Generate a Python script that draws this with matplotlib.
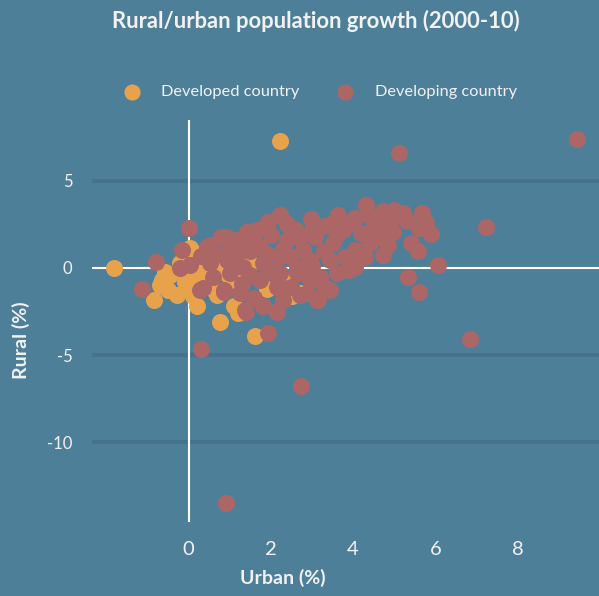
import matplotlib
matplotlib.use("Agg")
import matplotlib.pyplot as plt

plt.rcParams['font.family'] = ['Lato', 'DejaVu Sans']
plt.rcParams['axes.unicode_minus'] = False

BG = "#4e7f99"
ORANGE = "#e9a24c"
RED = "#ad6666"
GRID = "#46728b"
TXT = "#f2f2f2"

title = "Rural/urban population growth (2000-10)"
series_names = ["Developed country", "Developing country"]
x_ticks = [0, 2, 4, 6, 8]
y_ticks = [-10, -5, 0, 5]

developed_urban = [-1.81, 2.22, -0.84, 0.77, 1.62, 0.2, 2.52, 1.21, 0.69, -0.29,
                   -0.65, -0.45, -0.49, -0.04, 0.04, 0.28, 0.52, 0.44, -0.57, 0.16,
                   0.44, 0.44, -0.2, 0.0, 0.9, 1.0, 0.7, -0.7, 0.3, 1.3,
                   2.7, 1.9, 2.4, 1.5, 0.6, -0.1, 0.1, 1.1]
developed_rural = [0.0, 7.28, -1.83, -3.1, -3.9, -2.2, -1.6, -2.6, -1.55, -1.55,
                   -0.69, -0.4, -1.26, -1.17, 1.15, -0.4, -0.78, 0.74, -0.21, 0.86,
                   -0.69, -0.5, 0.3, -0.5, -0.3, -1.0, 0.2, -1.0, 0.2, -0.6,
                   -1.45, -1.2, -0.8, 0.3, -1.2, -0.8, -1.6, -2.2]

developing_urban = [9.44, 5.12, 7.23, 6.07, 6.84, 5.61, 5.34, 2.73, 0.91, 0.3,
                    1.93, 0.01, -1.14, -0.79, 0.28, 0.86, 1.4, 1.81, 2.15, 2.3,
                    -0.17, -0.22, 0.04, 0.52, 0.78, 0.44, 1.17, 1.41,
                    4.31, 4.73, 5.22, 5.67, 5.77, 5.61, 5.89, 5.42, 5.59, 2.97,
                    3.63, 4.05, 4.9, 4.98, 4.86, 4.73, 4.42, 4.05, 3.44, 3.2,
                    3.44, 3.15, 2.87, 2.83, 2.79, 3.76, 4.05, 3.07, 3.52, 4.52,
                    4.65, 2.22, 1.94, 1.66, 2.18, 2.63, 2.95, 1.82, 2.14, 1.9,
                    1.09, 1.74, 2.39, 2.71, 0.52, 0.93, 1.33, 1.82, 2.22, 2.63,
                    2.95, 0.85, 1.25, 1.74, 2.14, 2.71, 1.37, 3.12, 0.36, 1.57,
                    1.17, 3.3, 3.9, 4.2, 3.6, 3.3, 3.8, 4.3, 2.4, 2.6,
                    2.0, 2.3, 1.9, 1.5, 1.3, 0.7, 1.0, 0.3, 2.5, 3.0,
                    2.0, 1.5, 1.0, 0.6, 1.3, 2.5, 3.6, 4.4, 5.0, 3.5,
                    3.0, 4.7, 5.3, 4.2, 3.9, 2.2, 1.6, 3.3, 0.9]
developing_rural = [7.39, 6.59, 2.35, 0.17, -4.07, -1.36, -0.5, -6.76, -13.47, -4.64,
                    -3.72, 2.27, -1.2, 0.36, -1.26, -1.38, -2.5, -2.18, -2.46, -1.83,
                    1.03, 0.0, 0.17, 1.32, 1.79, 1.22, 1.6, 2.08,
                    3.61, 3.28, 3.17, 3.17, 2.56, 2.27, 1.95, 1.41, 0.97, 2.79,
                    3.04, 2.85, 2.66, 2.08, 1.32, 0.74, 1.41, 0.08, 0.46, -0.5,
                    -1.26, -1.83, -1.45, -0.3, 1.03, 2.18, 1.03, 1.79, 1.41, 2.37,
                    1.79, 3.04, 2.66, 2.18, -0.88, -0.3, -0.69, -2.2, -2.5, 2.46,
                    1.41, 1.22, 1.6, 1.79, 0.27, 0.46, 0.08, 0.27, -0.3, 0.08,
                    0.46, -1.26, -1.45, -0.69, -1.07, -1.55, -2.41, -1.83, -1.17, 1.79,
                    0.74, 2.4, 2.5, 2.0, 1.9, 1.0, 0.6, 0.6, 2.5, 2.2,
                    1.9, 1.1, 0.8, 1.0, 1.3, 0.8, 1.1, 0.7, 0.6, 0.1,
                    -0.2, -0.4, -0.3, -0.5, -0.9, -1.1, -0.3, 3.0, 3.3, 2.6,
                    2.2, 2.4, 2.7, 1.0, -0.1, 0.6, -1.7, -1.1, 1.8]

W, H = 599, 596
fig = plt.figure(figsize=(W / 100, H / 100), dpi=100, facecolor=BG)
ax = fig.add_axes([92 / W, 1 - 522 / H, 1 - 92 / W, (522 - 120) / H])
ax.set_facecolor(BG)
for s in ax.spines.values():
    s.set_visible(False)

ax.set_xlim(-2.35, 9.98)
ax.set_ylim(-14.56, 8.48)

for yv in y_ticks:
    if yv != 0:
        ax.axhline(yv, color=GRID, lw=3, zorder=0)
ax.axhline(0, color="white", lw=1.5, zorder=1)
ax.axvline(0, color="white", lw=1.5, zorder=1)

s1 = ax.scatter(developed_urban, developed_rural, s=150, color=ORANGE, lw=0,
                zorder=2, clip_on=False, label=series_names[0])
s2 = ax.scatter(developing_urban, developing_rural, s=150, color=RED, lw=0,
                zorder=3, clip_on=False, label=series_names[1])

ax.set_xticks(x_ticks)
ax.set_yticks(y_ticks)
ax.tick_params(length=0)
ax.tick_params(axis='x', labelsize=14.5, labelcolor=TXT, pad=14)
ax.tick_params(axis='y', labelsize=12, labelcolor=TXT, pad=14)

fig.text(283 / W, 1 - 578 / H, "Urban (%)", color=TXT, fontsize=14,
         fontweight='bold', ha='center', va='center')
fig.text(21 / W, 1 - 340 / H, "Rural (%)", color=TXT, fontsize=14,
         fontweight='bold', ha='center', va='center', rotation=90)
fig.text(316 / W, 1 - 21 / H, title, color=TXT, fontsize=15.8,
         fontweight='bold', ha='center', va='center')

leg = fig.legend(handles=[s1, s2], loc='center', bbox_to_anchor=(316 / W, 1 - 92 / H),
                 ncol=2, frameon=False, fontsize=11.8, labelcolor=TXT,
                 handletextpad=0.8, columnspacing=1.8, markerscale=0.95)

fig.savefig("out.png", dpi=100, facecolor=BG)
